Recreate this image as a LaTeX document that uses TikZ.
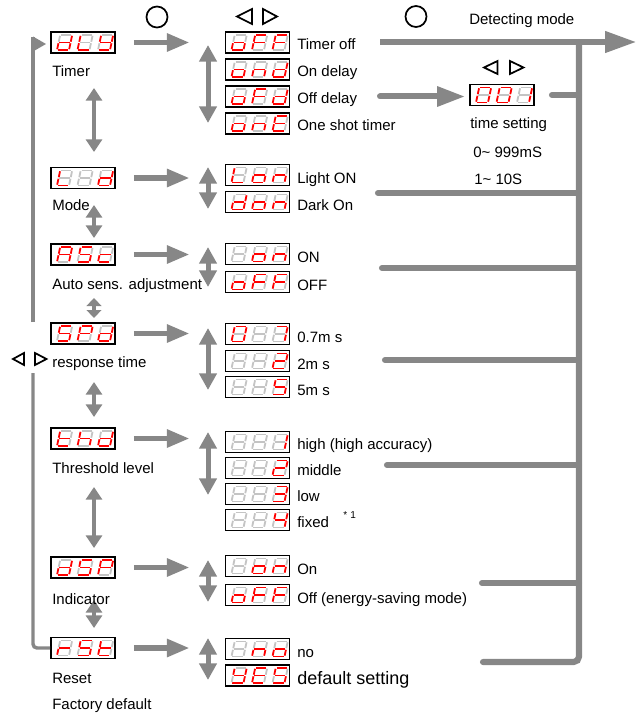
\documentclass[tikz,border=0pt]{standalone}
\usepackage{fontspec}
\setmainfont{Liberation Sans}
\usetikzlibrary{arrows.meta}
\definecolor{ag}{RGB}{135,135,135}
\definecolor{segred}{RGB}{255,0,0}
\definecolor{seggray}{RGB}{196,196,196}
% segment bits: a b c d e f g
\def\svx{{0}{0}{0}{0}{0}{0}{0}}
\def\svd{{0}{1}{1}{1}{1}{0}{1}}
\def\svL{{0}{0}{0}{1}{1}{1}{0}}
\def\svy{{0}{1}{1}{1}{0}{1}{1}}
\def\svY{{0}{1}{1}{1}{0}{1}{1}}
\def\svo{{0}{0}{1}{1}{1}{0}{1}}
\def\svF{{1}{0}{0}{0}{1}{1}{1}}
\def\svn{{0}{0}{1}{0}{1}{0}{1}}
\def\svE{{1}{0}{0}{1}{1}{1}{1}}
\def\svA{{1}{1}{1}{0}{1}{1}{1}}
\def\svS{{1}{0}{1}{1}{0}{1}{1}}
\def\svc{{0}{0}{0}{1}{1}{0}{1}}
\def\svP{{1}{1}{0}{0}{1}{1}{1}}
\def\svt{{0}{0}{0}{1}{1}{1}{1}}
\def\svh{{0}{0}{1}{0}{1}{1}{1}}
\def\svr{{0}{0}{0}{0}{1}{0}{1}}
\def\svzero{{1}{1}{1}{1}{1}{1}{0}}
\def\svone{{0}{1}{1}{0}{0}{0}{0}}
\def\svtwo{{1}{1}{0}{1}{1}{0}{1}}
\def\svthree{{1}{1}{1}{1}{0}{0}{1}}
\def\svfour{{0}{1}{1}{0}{0}{1}{1}}
\def\svfive{{1}{0}{1}{1}{0}{1}{1}}
\def\svseven{{1}{1}{1}{0}{0}{0}{0}}
\newcommand\sgm[2]{\ifnum#1=1 \draw[segon] #2;\else\draw[segoff] #2;\fi}
\newcommand\dgt[8]{%
  \begin{scope}[shift={(#8,7.5)}]
    \sgm{#1}{(3.2,-15)--(15.2,-15)}
    \sgm{#2}{(15.2,-15)--(13.6,-7.5)}
    \sgm{#3}{(13.6,-7.5)--(12,0)}
    \sgm{#4}{(0,0)--(12,0)}
    \sgm{#5}{(1.6,-7.5)--(0,0)}
    \sgm{#6}{(3.2,-15)--(1.6,-7.5)}
    \sgm{#7}{(1.6,-7.5)--(13.6,-7.5)}
  \end{scope}}
\newcommand\disp[6]{%
  \node[dbox] (#1) at (#2,#3) {};
  \begin{scope}[shift={(#2,#3)}]
    \expandafter\dgt#4{-26}
    \expandafter\dgt#5{-5.5}
    \expandafter\dgt#6{15}
  \end{scope}}
\begin{document}
\begin{tikzpicture}[x=0.75pt,y=-0.75pt,
  segon/.style={draw=segred,line width=1.35pt,shorten <=0.6pt,shorten >=0.6pt},
  segoff/.style={draw=seggray,line width=1.35pt,shorten <=0.6pt,shorten >=0.6pt},
  dbox/.style={draw=black,line width=1.3pt,fill=white,minimum width=48pt,minimum height=15.75pt,inner sep=0pt},
  lbl/.style={anchor=base west,inner sep=0pt,font=\fontsize{11.25pt}{13pt}\selectfont},
  biglbl/.style={anchor=base west,inner sep=0pt,font=\fontsize{13.5pt}{15pt}\selectfont},
  smlbl/.style={anchor=base west,inner sep=0pt,font=\fontsize{7.5pt}{9pt}\selectfont},
  harrow/.style={draw=ag,line width=4.1pt,-{Triangle[length=17pt,width=12.75pt]},shorten <=13.5pt,shorten >=26.25pt},
  vl/.style={draw=ag,line width=3.4pt,{Triangle[length=9.5pt,width=12pt]}-{Triangle[length=9.5pt,width=12pt]}},
  vls/.style={draw=ag,line width=3.4pt,{Triangle[length=6pt,width=11pt]}-{Triangle[length=6pt,width=11pt]}},
  vr/.style={draw=ag,line width=3.75pt,{Triangle[length=12.5pt,width=12.75pt]}-{Triangle[length=12.5pt,width=12.75pt]}},
  busl/.style={draw=ag,line width=4.6pt,line cap=round},
  bigarrow/.style={draw=ag,line width=5.2pt,-{Triangle[length=24pt,width=15pt]}},
  midarrow/.style={draw=ag,line width=4.5pt,line cap=round,-{Triangle[length=21pt,width=14.25pt]}},
  loopl/.style={draw=ag,line width=2.6pt},
  tri/.style={draw=black,line width=1.3pt,line join=miter},
  ring/.style={draw=black,line width=1.3pt}]
\useasboundingbox (0,0) rectangle (637,713);

% ---- symbols
\draw[ring] (157,17) circle[radius=10.5];
\draw[ring] (416,16.5) circle[radius=10.5];
\draw[tri] (252,9) -- (237,16.5) -- (252,24) -- cycle;
\draw[tri] (263,9) -- (277,16.5) -- (263,24) -- cycle;
\draw[tri] (497.5,61) -- (484,67.5) -- (497.5,74) -- cycle;
\draw[tri] (510,61) -- (523.5,67.5) -- (510,74) -- cycle;
\draw[tri] (24,353) -- (13,359) -- (24,365) -- cycle;
\draw[tri] (35,353) -- (46.5,359) -- (35,365) -- cycle;

% ---- right bus and lines
\coordinate (bt) at (579,42);
\coordinate (bb) at (579,662);
\coordinate (dm0) at (380,42);
\coordinate (dmE) at (637,42);
\draw[bigarrow] (dm0) -- (dmE);
\coordinate (rs0) at (483,662);
\draw[busl,rounded corners=4] (rs0) -- (bb) -- (bt);
\coordinate (c1) at (552,95);
\coordinate (c2) at (378,193);
\coordinate (c3) at (382,268);
\coordinate (c4) at (385,360);
\coordinate (c5) at (387,465);
\coordinate (c6) at (482,583);
\foreach \c in {c1,c2,c3,c4,c5,c6} {\draw[busl] (\c) -- (\c -| bt);}

% ---- left loop line
\coordinate (lp1) at (33,322);
\coordinate (lp2) at (33,37);
\draw[loopl] (lp1) -- (lp2);
\fill[ag] (33,36.5) -- (46,44) -- (33,51.5) -- cycle;
\coordinate (lp3) at (33,373);
\coordinate (lp4) at (33,648);

% ---- left displays
\disp{tmr}{83}{42.5}{\svd}{\svL}{\svy}
\disp{mod}{83}{178}{\svL}{\svx}{\svd}
\disp{asc}{83}{254.5}{\svA}{\svS}{\svc}
\disp{spd}{83}{333.5}{\svS}{\svP}{\svd}
\disp{thd}{83}{438.5}{\svt}{\svh}{\svd}
\disp{dsp}{83}{567.5}{\svd}{\svS}{\svP}
\disp{rst}{83}{648}{\svr}{\svS}{\svt}
\draw[loopl,rounded corners=3] (lp3) -- (lp4) -- (rst.west);

% ---- option displays
\disp{ta}{257.5}{42.5}{\svo}{\svF}{\svF}
\disp{tb}{257.5}{69.5}{\svo}{\svn}{\svd}
\disp{tc}{257.5}{96.5}{\svo}{\svF}{\svd}
\disp{td}{257.5}{123.5}{\svo}{\svn}{\svE}
\disp{ma}{257.5}{175}{\svL}{\svo}{\svn}
\disp{mb}{257.5}{202}{\svd}{\svo}{\svn}
\disp{aa}{257.5}{254}{\svx}{\svo}{\svn}
\disp{ab}{257.5}{282}{\svo}{\svF}{\svF}
\disp{sa}{257.5}{334}{\svzero}{\svx}{\svseven}
\disp{sb}{257.5}{361}{\svx}{\svx}{\svtwo}
\disp{sc}{257.5}{387}{\svx}{\svx}{\svfive}
\disp{ha}{257.5}{442}{\svx}{\svx}{\svone}
\disp{hb}{257.5}{468}{\svx}{\svx}{\svtwo}
\disp{hc}{257.5}{494}{\svx}{\svx}{\svthree}
\disp{hd}{257.5}{520}{\svx}{\svx}{\svfour}
\disp{da}{257.5}{566}{\svx}{\svo}{\svn}
\disp{db}{257.5}{595}{\svo}{\svF}{\svF}
\disp{ra}{257.5}{649}{\svx}{\svn}{\svo}
\disp{rb}{257.5}{675.5}{\svY}{\svE}{\svS}
\disp{ts}{502}{95}{\svzero}{\svzero}{\svone}

% ---- off delay -> time setting
\coordinate (od0) at (380,96.5);
\draw[midarrow,shorten >=3pt] (od0) -- (od0 -| ts.west);

% ---- horizontal arrows
\draw[harrow] (tmr.east) -- (tmr.east -| ta.west);
\draw[harrow] (mod.east) -- (mod.east -| ma.west);
\draw[harrow] (asc.east) -- (asc.east -| aa.west);
\draw[harrow] (spd.east) -- (spd.east -| sa.west);
\draw[harrow] (thd.east) -- (thd.east -| ha.west);
\draw[harrow] (dsp.east) -- (dsp.east -| da.west);
\draw[harrow] (rst.east) -- (rst.east -| ra.west);

% ---- vertical arrows, left column
\coordinate (v1a) at (94,88);  \coordinate (v1b) at (94,152);
\coordinate (v2a) at (94,205); \coordinate (v2b) at (94,238);
\coordinate (v3a) at (94,298); \coordinate (v3b) at (94,318);
\coordinate (v4a) at (94,382); \coordinate (v4b) at (94,417);
\coordinate (v5a) at (94,487); \coordinate (v5b) at (94,548);
\coordinate (v6a) at (94,600); \coordinate (v6b) at (94,628);
\draw[vl] (v1a) -- (v1b);
\draw[vl] (v2a) -- (v2b);
\draw[vls] (v3a) -- (v3b);
\draw[vl] (v4a) -- (v4b);
\draw[vl] (v5a) -- (v5b);
\draw[vl] (v6a) -- (v6b);

% ---- vertical arrows, option lists
\foreach \n/\a/\b in {1/45/123,2/167/209,3/247/287,4/328/390,5/432/495,6/560/602,7/638/680}{
  \coordinate (w\n a) at (208,\a);
  \coordinate (w\n b) at (208,\b);
  \draw[vr] (w\n a) -- (w\n b);}

% ---- left labels
\node[lbl] (l1) at (52,77) {Timer};
\node[lbl] (l2) at (52,210) {Mode};
\node[lbl] (l3) at (52,289) {Auto sens. adjustment};
\node[lbl] (l4) at (52,367) {response time};
\node[lbl] (l5) at (52,473) {Threshold level};
\node[lbl] (l6) at (52,604) {Indicator};
\node[lbl] (l7) at (52,683) {Reset};
\node[lbl] (l8) at (52,709) {Factory default};

% ---- option labels
\node[lbl] (o1) at (297,50) {Timer off};
\node[lbl] (o2) at (297,77) {On delay};
\node[lbl] (o3) at (297,104) {Off delay};
\node[lbl] (o4) at (297,131) {One shot timer};
\node[lbl] (o5) at (297,183) {Light ON};
\node[lbl] (o6) at (297,210) {Dark On};
\node[lbl] (o7) at (297,262) {ON};
\node[lbl] (o8) at (297,290) {OFF};
\node[lbl] (o9) at (297,342) {0.7m s};
\node[lbl] (o10) at (297,369) {2m s};
\node[lbl] (o11) at (297,395) {5m s};
\node[lbl] (o12) at (297,449) {high (high accuracy)};
\node[lbl] (o13) at (297,475) {middle};
\node[lbl] (o14) at (297,501) {low};
\node[lbl] (o15) at (297,527) {fixed};
\node[smlbl] (fn) at (343,518) {*\,\,1};
\node[lbl] (o16) at (297,574) {On};
\node[lbl] (o17) at (297,603) {Off (energy-saving mode)};
\node[lbl] (o18) at (297,657) {no};
\node[biglbl] (o19) at (297,684.5) {default setting};

% ---- right texts
\node[lbl] (dmt) at (469,24.5) {Detecting mode};
\node[lbl] (tst) at (470,129) {time setting};
\node[lbl] (r1) at (473,157) {0\textasciitilde{} 999mS};
\node[lbl] (r2) at (474,184) {1\textasciitilde{} 10S};
\end{tikzpicture}
\end{document}
